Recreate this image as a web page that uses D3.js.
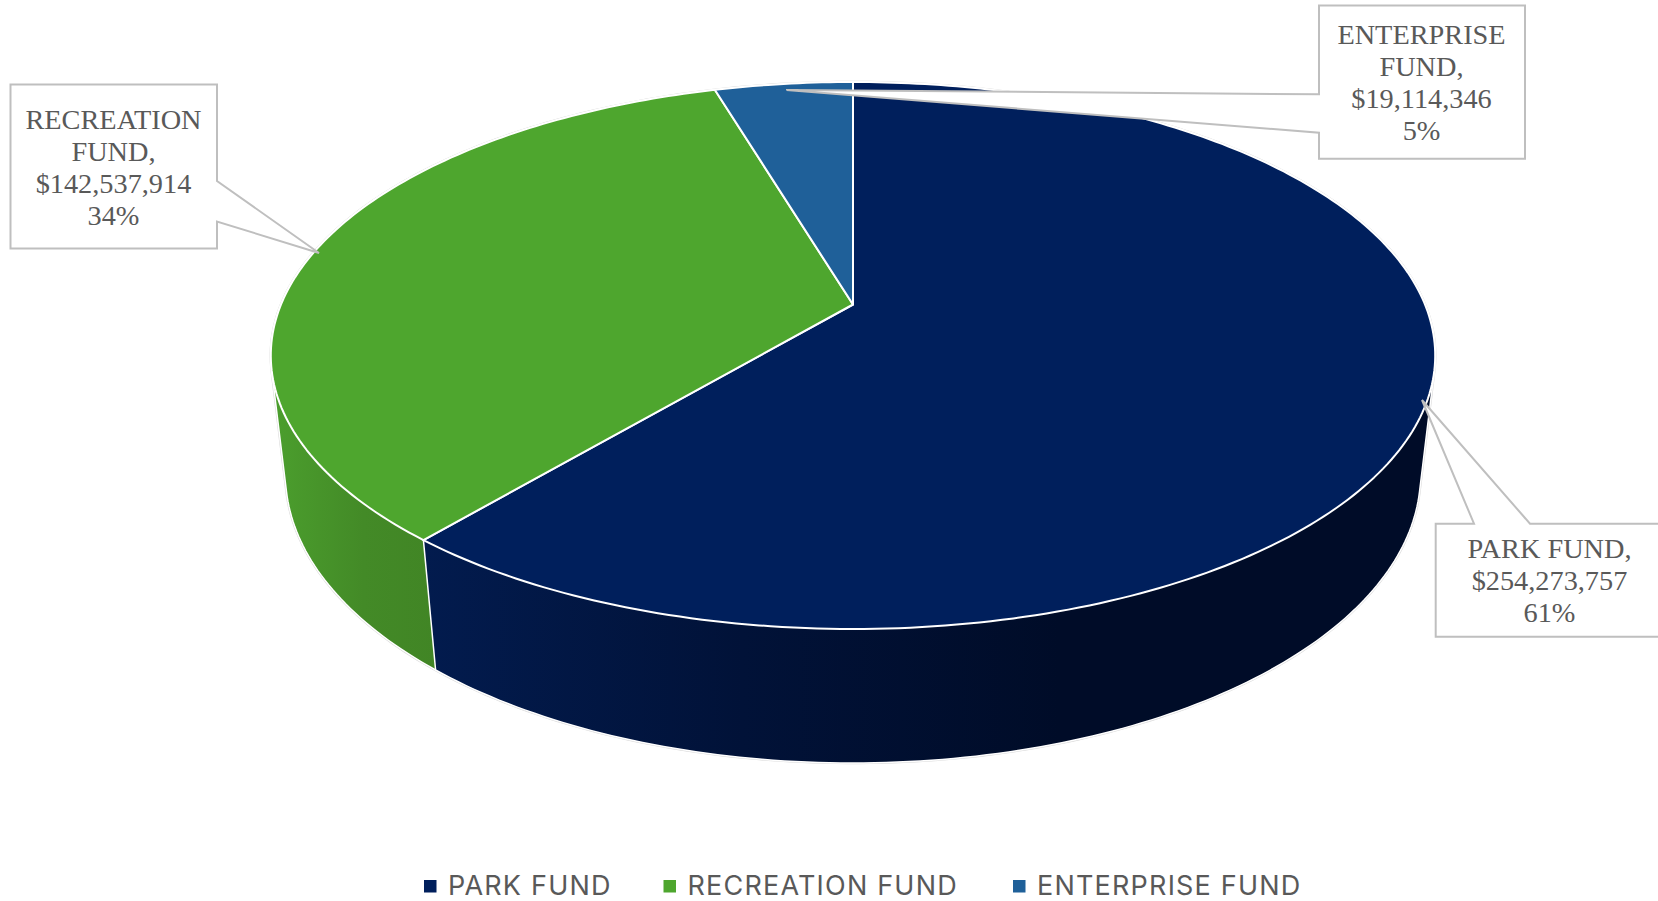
<!DOCTYPE html>
<html>
<head>
<meta charset="utf-8">
<script src="https://cdn.jsdelivr.net/npm/d3@7"></script>
<style>
  html, body { margin: 0; padding: 0; background: #fff; overflow: hidden; }
  svg { display: block; }
</style>
</head>
<body>
<div id="chart"></div>
<script>
// chart data
const categories = ['PARK FUND', 'RECREATION FUND', 'ENTERPRISE FUND']
const amounts    = [254273757, 142537914, 19114346]
const percents   = ['61%', '34%', '5%']
const colors     = ['#001f5c', '#4ea62e', '#1f6099']

const W = 1658, H = 901

// the disc is a unit circle seen through a perspective transform,
// these were fitted on the reference (apex, top and bottom of the rim)
const APEX_X = 853, APEX_Y = 304.5
const SCALE_X = 572, SCALE_Y = 264
const TILT = 0.1864
const DEPTH = 120.5, DEPTH_W = 0.025

function project(angle, lower) {
  const u = Math.sin(angle), v = -Math.cos(angle)
  const w = 1 - TILT * v + (lower ? DEPTH_W : 0)
  return [APEX_X + SCALE_X * u / w, APEX_Y + (SCALE_Y * v + (lower ? DEPTH : 0)) / w]
}

const pie = d3.pie().sort(null).value(d => d)
const slices = pie(amounts)
const line = d3.line()

function arcPoints(s, lower) {
  const n = Math.ceil((s.endAngle - s.startAngle) * 60)
  const t = d3.scaleLinear().domain([0, n]).range([s.startAngle, s.endAngle])
  return d3.range(n + 1).map(i => project(t(i), lower))
}

// outline of a slice's solid, top and bottom arc together
function solidHull(s) {
  return d3.polygonHull(arcPoints(s, false).concat(arcPoints(s, true)))
}

const svg = d3.select('#chart').append('svg')
    .attr('width', W)
    .attr('height', H)

// side wall shading
const wallStops = [
  [{o: 0, c: '#021b4e'}, {o: 0.5, c: '#011238'}, {o: 1, c: '#000c28'}],
  [{o: 0, c: '#4b9e2d'}, {o: 0.55, c: '#438a27'}, {o: 1, c: '#418525'}],
  [{o: 0, c: '#1a5080'}, {o: 1, c: '#1a5080'}]
]
const wallRange = [[424, 1060], [275, 436], [715, 853]]
const defs = svg.append('defs')
slices.forEach((s, i) => {
  defs.append('linearGradient')
      .attr('id', 'wall' + i)
      .attr('gradientUnits', 'userSpaceOnUse')
      .attr('x1', wallRange[i][0]).attr('x2', wallRange[i][1])
      .attr('y1', 0).attr('y2', 0)
    .selectAll('stop').data(wallStops[i]).join('stop')
      .attr('offset', d => d.o)
      .attr('stop-color', d => d.c)
})

// faint edge round the whole solid
const wholeTurn = {startAngle: 0, endAngle: 2 * Math.PI}
svg.append('path')
    .attr('d', line(solidHull(wholeTurn)) + 'Z')
    .attr('fill', 'none')
    .attr('stroke', '#d9d9d9')
    .attr('stroke-width', 2.5)
    .attr('stroke-linejoin', 'round')

// walls first, the top covers whatever is round the back.
// reversed so the navy wall sits over the green hull's inner chord
svg.append('g').selectAll('path').data(slices.slice().reverse()).join('path')
    .attr('d', s => line(solidHull(s)) + 'Z')
    .attr('fill', s => `url(#wall${s.index})`)
    .attr('stroke', '#fff')
    .attr('stroke-width', 1.5)
    .attr('stroke-linejoin', 'round')

// top of the pie
svg.append('g').selectAll('path').data(slices).join('path')
    .attr('d', s => line([[APEX_X, APEX_Y]].concat(arcPoints(s, false))) + 'Z')
    .attr('fill', (s, i) => colors[i])
    .attr('stroke', '#fff')
    .attr('stroke-width', 2)
    .attr('stroke-linejoin', 'round')

// callouts
const callouts = [
  {i: 1, x0: 10.5, y0: 84.5, x1: 217, y1: 248.5, cx: 113.5, base: 129.3, side: 'right',
   lines: ['RECREATION', 'FUND,', '$142,537,914'],
   tail: [[217, 181], [319, 253], [217, 221.5]]},
  {i: 2, x0: 1319, y0: 5.5, x1: 1525, y1: 158.7, cx: 1421.5, base: 43.5, side: 'left',
   lines: ['ENTERPRISE', 'FUND,', '$19,114,346'],
   tail: [[1319, 132.7], [786.5, 90], [1319, 94.3]]},
  {i: 0, x0: 1435.7, y0: 523.7, x1: 1670, y1: 636.7, cx: 1549.5, base: 558,
   side: 'top', lines: ['PARK FUND,', '$254,273,757'],
   tail: [[1474, 523.7], [1422, 400], [1530, 523.7]]}
]

function calloutPath(c) {
  const pts = [[c.x0, c.y0]]
  if (c.side === 'top') pts.push(...c.tail)
  pts.push([c.x1, c.y0])
  if (c.side === 'right') pts.push(...c.tail)
  pts.push([c.x1, c.y1], [c.x0, c.y1])
  if (c.side === 'left') pts.push(...c.tail)
  return line(pts) + 'Z'
}

const box = svg.append('g').selectAll('g').data(callouts).join('g')
box.append('path')
    .attr('d', calloutPath)
    .attr('fill', '#fff')
    .attr('stroke', '#bfbfbf')
    .attr('stroke-width', 2)

box.append('text')
    .attr('text-anchor', 'middle')
    .attr('font-family', '"Liberation Serif", serif')
    .attr('font-size', 28.3)
    .attr('fill', '#595959')
  .selectAll('tspan').data(c => c.lines.concat(percents[c.i]).map((t, k) => ({t, k, c})))
  .join('tspan')
    .attr('x', d => d.c.cx)
    .attr('y', d => d.c.base + d.k * 32)
    .text(d => d.t)

// legend
const legendX = [424, 663.5, 1013]
const legend = svg.append('g').selectAll('g').data(categories).join('g')
    .attr('transform', (d, i) => `translate(${legendX[i]},880)`)
legend.append('rect')
    .attr('width', 12.5)
    .attr('height', 12.5)
    .attr('fill', (d, i) => colors[i])
legend.append('text')
    .attr('x', 24)
    .attr('y', 14.5)
    .attr('font-family', 'Inter, sans-serif')
    .attr('font-size', 27)
    .attr('letter-spacing', 1.2)
    .attr('fill', '#595959')
    .text(d => d)
</script>
</body>
</html>
